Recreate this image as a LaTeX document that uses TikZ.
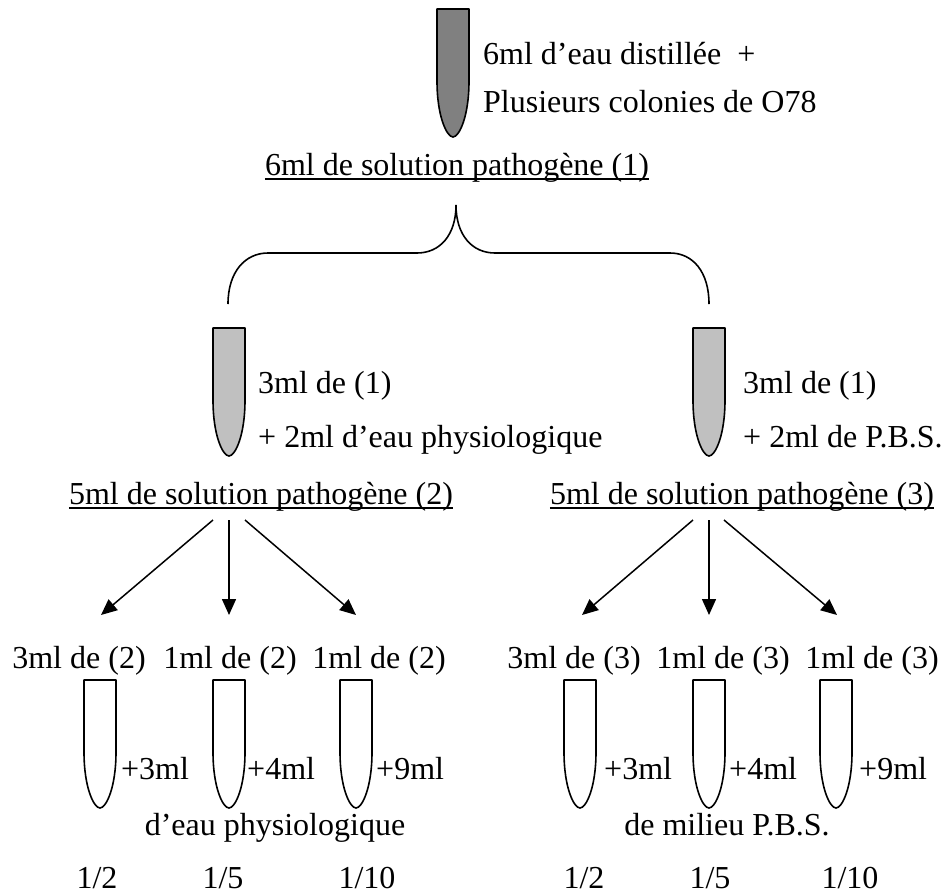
\documentclass[tikz,border=0pt]{standalone}
\usepackage{fontspec}
\setmainfont{Liberation Serif}
\usetikzlibrary{arrows.meta}

\definecolor{tubedark}{HTML}{808080}
\definecolor{tubelight}{HTML}{C0C0C0}

% a test tube: centre x, top y, fill colour
\newcommand\testtube[3]{%
  \filldraw[tubeline, fill=#3]
    (#1-16,#2) -- (#1-16,#2+72)
    .. controls (#1-16,#2+108) and (#1-6,#2+128) .. (#1,#2+128)
    .. controls (#1+6,#2+128) and (#1+16,#2+108) .. (#1+16,#2+72)
    -- (#1+16,#2) -- cycle;}

\begin{document}
\begin{tikzpicture}[x=1pt, y=-1pt,
  txt/.style={inner sep=0pt, font=\fontsize{32}{38}\selectfont},
  tubeline/.style={line width=1.6pt, line join=round},
  rule/.style={line width=1.5pt},
  brace/.style={line width=1.6pt},
  flow/.style={line width=1.5pt, -{Triangle[length=16pt,width=14pt]}}]
\useasboundingbox (0,0) rectangle (950,895);

% ---- starting culture ----
\testtube{453}{9}{tubedark}
\node[txt, anchor=base west] (t1) at (483,64) {6ml d’eau distillée~~+};
\node[txt, anchor=base west] (t2) at (483,112) {Plusieurs colonies de O78};
\node[txt, anchor=base] (s1) at (457,175) {6ml de solution pathogène (1)};
\draw[rule] ([yshift=-4pt]s1.base west) -- ([yshift=-4pt]s1.base east);

% ---- splitting brace ----
\draw[brace] (228,304) .. controls (228,272) and (245,253) .. (268,253)
  -- (417,253) .. controls (440,253) and (456,235) .. (456,205);
\draw[brace] (456,205) .. controls (456,235) and (472,253) .. (495,253)
  -- (670,253) .. controls (693,253) and (709,272) .. (709,304);

% ---- second-level tubes ----
\testtube{229}{328}{tubelight}
\testtube{709}{328}{tubelight}
\node[txt, anchor=base west] (l1) at (258,393) {3ml de (1)};
\node[txt, anchor=base west] (l2) at (258,447) {+ 2ml d’eau physiologique};
\node[txt, anchor=base west] (r1) at (743,393) {3ml de (1)};
\node[txt, anchor=base west] (r2) at (743,447) {+ 2ml de P.B.S.};

\node[txt, anchor=base] (s2) at (261,504) {5ml de solution pathogène (2)};
\node[txt, anchor=base] (s3) at (742,504) {5ml de solution pathogène (3)};
\draw[rule] ([yshift=-4pt]s2.base west) -- ([yshift=-4pt]s2.base east);
\draw[rule] ([yshift=-4pt]s3.base west) -- ([yshift=-4pt]s3.base east);

% ---- arrows to the dilutions ----
\coordinate (a1) at (213,520); \coordinate (b1) at (101,615);
\coordinate (a2) at (229,520); \coordinate (b2) at (229,615);
\coordinate (a3) at (245,520); \coordinate (b3) at (356,615);
\coordinate (a4) at (693,520); \coordinate (b4) at (582,615);
\coordinate (a5) at (709,520); \coordinate (b5) at (709,615);
\coordinate (a6) at (724,520); \coordinate (b6) at (837,615);
\foreach \i in {1,...,6} \draw[flow] (a\i) -- (b\i);

% ---- dilution tubes, left series ----
\node[txt, anchor=base] (d1) at (79,668) {3ml de (2)};
\node[txt, anchor=base] (d2) at (230,668) {1ml de (2)};
\node[txt, anchor=base] (d3) at (379,668) {1ml de (2)};
\testtube{100}{680}{white}
\testtube{229}{680}{white}
\testtube{356}{680}{white}
\node[txt, anchor=base west] (p1) at (121,779) {+3ml};
\node[txt, anchor=base west] (p2) at (247,779) {+4ml};
\node[txt, anchor=base west] (p3) at (376,779) {+9ml};
\node[txt, anchor=base] (m1) at (275,835) {d’eau physiologique};
\node[txt, anchor=base] (f1) at (97,888) {1/2};
\node[txt, anchor=base] (f2) at (223,888) {1/5};
\node[txt, anchor=base] (f3) at (367,888) {1/10};

% ---- dilution tubes, right series ----
\node[txt, anchor=base] (e1) at (574,668) {3ml de (3)};
\node[txt, anchor=base] (e2) at (723,668) {1ml de (3)};
\node[txt, anchor=base] (e3) at (872,668) {1ml de (3)};
\testtube{580}{680}{white}
\testtube{709}{680}{white}
\testtube{836}{680}{white}
\node[txt, anchor=base west] (q1) at (604,779) {+3ml};
\node[txt, anchor=base west] (q2) at (729,779) {+4ml};
\node[txt, anchor=base west] (q3) at (859,779) {+9ml};
\node[txt, anchor=base] (m2) at (727,835) {de milieu P.B.S.};
\node[txt, anchor=base] (g1) at (584,888) {1/2};
\node[txt, anchor=base] (g2) at (710,888) {1/5};
\node[txt, anchor=base] (g3) at (850,888) {1/10};
\end{tikzpicture}
\end{document}
